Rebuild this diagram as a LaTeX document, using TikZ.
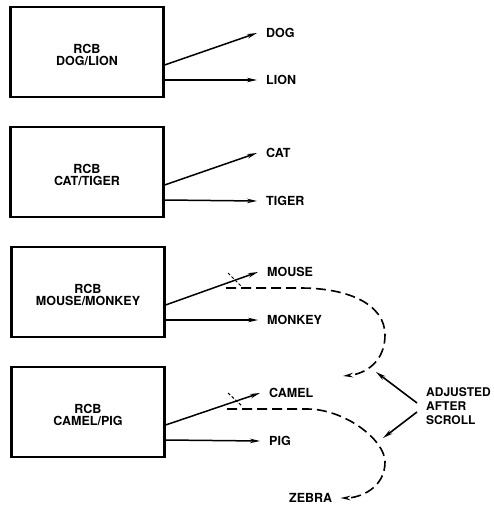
\documentclass[tikz,border=0pt]{standalone}
\usepackage{fontspec}
\setmainfont{TeX Gyre Heros}
\usetikzlibrary{arrows.meta,calc}

\begin{document}
\begin{tikzpicture}[x=1pt,y=-1pt,
  rcb/.style={draw,line width=2.2pt,minimum width=153pt,minimum height=90pt,inner sep=0pt},
  boxtext/.style={font=\bfseries\fontsize{12.5}{12.5}\selectfont,align=center,inner sep=0pt},
  outname/.style={font=\bfseries\fontsize{12.5}{12.5}\selectfont,anchor=west,inner sep=0pt},
  feed/.style={line width=1.5pt,-{Stealth[length=10pt,width=4.5pt]}},
  scroll/.style={line width=1.6pt,dash pattern=on 10pt off 5pt,-{Stealth[length=10pt,width=4.5pt]}},
  tick/.style={line width=1pt,dash pattern=on 3pt off 2pt},
  note/.style={line width=1.6pt,-{Stealth[length=10pt,width=4.5pt]}},
]
\useasboundingbox (0,0) rectangle (493,508);

% register control blocks
\node[rcb,label={[boxtext,yshift=-3pt]center:RCB\\DOG/LION}] (b1) at (87,52) {};
\node[rcb,label={[boxtext,yshift=-3pt]center:RCB\\CAT/TIGER}] (b2) at (87,172) {};
\node[rcb,label={[boxtext,yshift=-3pt]center:RCB\\MOUSE/MONKEY}] (b3) at (88,292) {};
\node[rcb,label={[boxtext,yshift=-3pt]center:RCB\\CAMEL/PIG}] (b4) at (88,412) {};

% output names
\node[outname] (dog)    at (266,33)  {DOG};
\node[outname] (lion)   at (266,80)  {LION};
\node[outname] (cat)    at (266,153) {CAT};
\node[outname] (tiger)  at (266,201) {TIGER};
\node[outname] (mouse)  at (267,272) {MOUSE};
\node[outname] (monkey) at (267,320) {MONKEY};
\node[outname] (camel)  at (269,393) {CAMEL};
\node[outname] (pig)    at (269,441) {PIG};
\node[font=\bfseries\fontsize{12.5}{12.5}\selectfont,anchor=west,inner sep=0pt] (zebra) at (289,498) {ZEBRA};
\node[font=\bfseries\fontsize{12}{14}\selectfont,align=left,anchor=north west,inner sep=0pt]
  (adj) at (426,387) {ADJUSTED\\AFTER\\SCROLL};

% arrows from each block
\foreach \b/\up/\dn in {b1/dog/lion, b2/cat/tiger, b3/mouse/monkey, b4/camel/pig}{
  \draw[feed] ($(\b.east)+(0,13)$) -- ([xshift=-9pt]\up.west);
  \draw[feed] ($(\b.east)+(0,28)$) -- ([xshift=-9pt]\dn.west);
}

% scroll adjustment paths
\coordinate (m0) at (226,288);
\coordinate (m1) at (300,288);
\coordinate (m2) at (385,335);
\coordinate (m3) at (343,376);
\draw[tick] (228,273) -- (241,286);
\draw[scroll] (m0) -- (m1) .. controls (350,288) and (385,305) .. (m2)
  .. controls (385,362) and (365,374) .. (m3);

\coordinate (c0) at (227,409);
\coordinate (c1) at (307,409);
\coordinate (c2) at (385,462);
\draw[tick] (228,393) -- (242,406);
\draw[scroll] (c0) -- (c1) .. controls (345,409) and (385,440) .. (c2)
  .. controls (385,488) and (360,498) .. ([xshift=8pt]zebra.east);

% pointers from the note
\coordinate (t1) at (376,372);
\coordinate (t2) at (383,438);
\draw[note] ($(adj.north west)+(-9,16)$) -- (t1);
\draw[note] ($(adj.north west)+(-9,25)$) -- (t2);
\end{tikzpicture}
\end{document}
